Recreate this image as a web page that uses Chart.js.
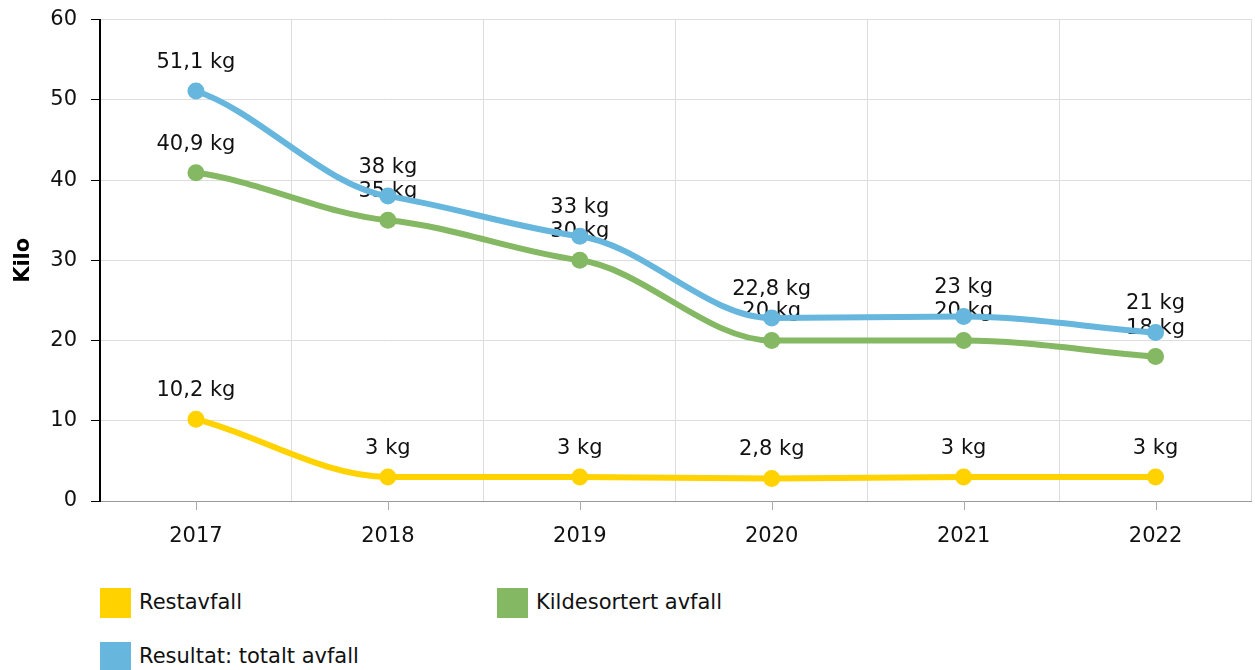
<!DOCTYPE html>
<html>
<head>
<meta charset="utf-8">
<script src="https://cdn.jsdelivr.net/npm/chart.js@4"></script>
<style>
  body { margin: 0; background: #fff; font-family: "DejaVu Sans", Verdana, sans-serif; }
  #wrap { position: relative; width: 1255px; height: 670px; overflow: hidden; }
  #box { position: absolute; left: 0; top: -7px; width: 1260px; height: 577px; }
  .leg { position: absolute; font-size: 21px; color: #111; white-space: nowrap; }
  .leg i { position: absolute; left: 0; top: 0; width: 31px; height: 30px; }
  .leg span { position: absolute; left: 39px; top: 2px; }
</style>
</head>
<body>
<div id="wrap">
  <div id="box"><canvas id="grafico"></canvas></div>
  <div class="leg" style="left:100px; top:588px"><i style="background:#FFD200"></i><span>Restavfall</span></div>
  <div class="leg" style="left:497px; top:588px"><i style="background:#84B862"></i><span>Kildesortert avfall</span></div>
  <div class="leg" style="left:100px; top:642px"><i style="background:#66B6DD"></i><span>Resultat: totalt avfall</span></div>
</div>
<script>
// Data
const aar = ['2017', '2018', '2019', '2020', '2021', '2022'];
const restavfall = [10.2, 3, 3, 2.8, 3, 3];
const kildesortert = [40.9, 35, 30, 20, 20, 18];
const totalt = [51.1, 38, 33, 22.8, 23, 21];

const FONT = '"DejaVu Sans", Verdana, sans-serif';

// Myk kurve med slake tangenter (kontrollpunkter fra punktenes egne posisjoner)
const kurve = {
    id: 'kurve',
    beforeDatasetDraw(chart, args) {
        const pts = args.meta.data;
        const n = pts.length;
        const sl = [];
        for (let i = 0; i < n - 1; i++) {
            sl.push((pts[i + 1].y - pts[i].y) / (pts[i + 1].x - pts[i].x));
        }
        const m = pts.map(() => 0);
        for (let i = 1; i < n - 1; i++) {
            const a = sl[i - 1], b = sl[i];
            if (a * b <= 0 || Math.abs(a) < 0.02 || Math.abs(b) < 0.02) continue;
            m[i] = 0.42 * (a + b) / 2;
        }
        // endepunkter
        const ende = (s, nabo) => {
            let v = s - nabo;
            if (v * s < 0) v = 0;
            if (Math.abs(v) < Math.abs(0.3 * s)) v = 0.3 * s;
            return v * 0.85;
        };
        m[0] = ende(sl[0], m[1]);
        m[n - 1] = ende(sl[n - 2], m[n - 2]);
        pts.forEach((p, i) => {
            const dxl = i > 0 ? (p.x - pts[i - 1].x) / 3 : 0;
            const dxr = i < n - 1 ? (pts[i + 1].x - p.x) / 3 : 0;
            p.cp1x = p.x - dxl; p.cp1y = p.y - m[i] * dxl;
            p.cp2x = p.x + dxr; p.cp2y = p.y + m[i] * dxr;
        });
        args.meta.dataset._pointsUpdated = true;
    }
};

// Etiketter over punktene, tegnes rett etter hver serie
const etiketter = {
    id: 'etiketter',
    afterDatasetDraw(chart, args) {
        const meta = args.meta;
        const data = chart.data.datasets[args.index].data;
        const c = chart.ctx;
        c.save();
        c.font = '21px ' + FONT;
        c.fillStyle = '#111';
        c.textAlign = 'center';
        c.textBaseline = 'middle';
        meta.data.forEach((pt, i) => {
            const txt = String(data[i]).replace('.', ',') + ' kg';
            c.fillText(txt, pt.x, pt.y - 28.5);
        });
        c.restore();
    }
};

// Små streker under x-aksen ved hver kategori
const xStreker = {
    id: 'xStreker',
    afterDraw(chart) {
        const x = chart.scales.x;
        const c = chart.ctx;
        c.save();
        c.strokeStyle = '#aaa';
        c.lineWidth = 1;
        aar.forEach((a, i) => {
            const px = Math.round(x.getPixelForValue(i)) + 0.5;
            c.beginPath();
            c.moveTo(px, x.top);
            c.lineTo(px, x.top + 9);
            c.stroke();
        });
        c.restore();
    }
};

function serie(navn, data, farge, rekkefolge) {
    return {
        label: navn,
        data: data,
        borderColor: farge,
        backgroundColor: farge,
        borderWidth: 6,
        pointRadius: 8.5,
        pointHoverRadius: 8.5,
        pointBorderWidth: 0,
        tension: 0.4,
        order: rekkefolge
    };
}

const ctx = document.getElementById('grafico').getContext('2d');
const grafico = new Chart(ctx, {
    type: 'line',
    data: {
        labels: aar,
        datasets: [
            serie('Restavfall', restavfall, '#FFD200', 3),
            serie('Kildesortert avfall', kildesortert, '#84B862', 2),
            serie('Resultat: totalt avfall', totalt, '#66B6DD', 1)
        ]
    },
    options: {
        responsive: true,
        maintainAspectRatio: false,
        animation: false,
        layout: { padding: { top: 12, right: 0, left: 0, bottom: 0 } },
        plugins: {
            legend: { display: false },
            tooltip: { enabled: false }
        },
        scales: {
            x: {
                offset: true,
                grid: { offset: true, color: '#dcdcdc', drawTicks: false },
                border: { color: '#999', width: 1 },
                ticks: { color: '#111', font: { family: FONT, size: 21 }, padding: 23 },
                afterFit(scale) { scale.height = 69; }
            },
            y: {
                min: 0,
                max: 60,
                ticks: { stepSize: 10, color: '#111', font: { family: FONT, size: 21 }, padding: 14 },
                grid: { color: '#dcdcdc', tickColor: '#000', tickLength: 9 },
                border: { color: '#000', width: 2 },
                title: {
                    display: true,
                    text: 'Kilo',
                    color: '#000',
                    font: { family: FONT, size: 21, weight: 'bold' },
                    padding: { top: 11 }
                },
                afterFit(scale) { scale.width = 100; }
            }
        }
    },
    plugins: [kurve, etiketter, xStreker]
});
</script>
</body>
</html>
